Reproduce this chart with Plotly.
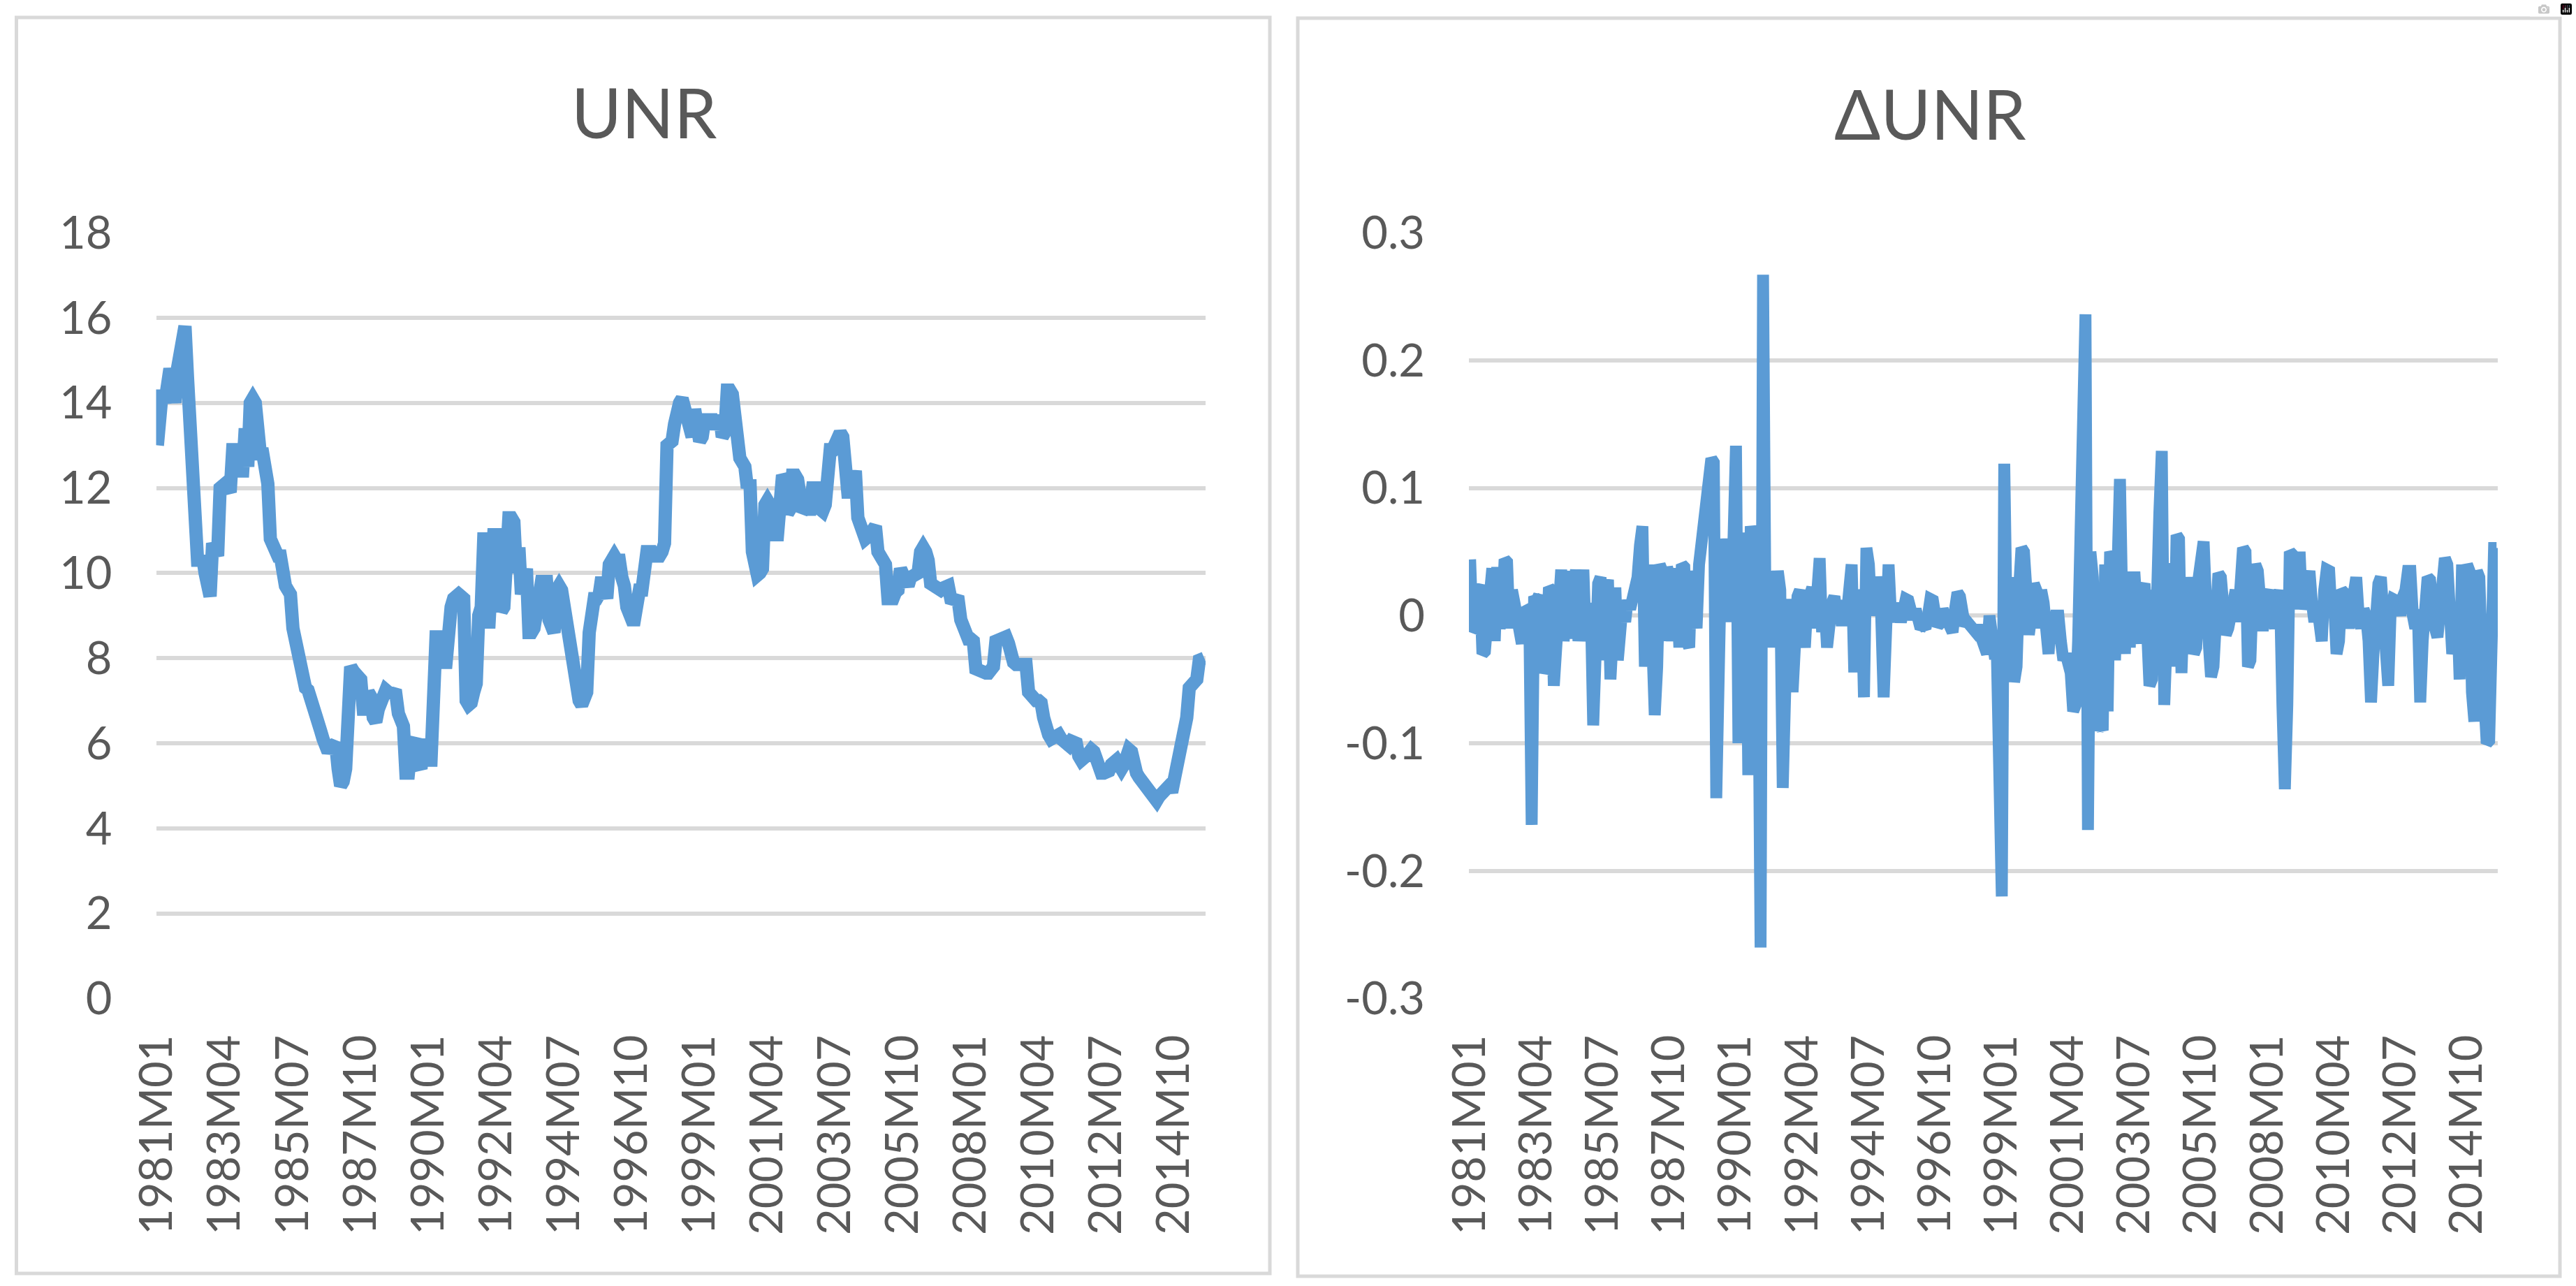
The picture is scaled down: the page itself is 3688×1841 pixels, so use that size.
import plotly.graph_objects as go

# ---------------- data ----------------
start_year, start_month, n_months = 1981, 1, 418
categories = []
for k in range(n_months):
    y = start_year + (start_month - 1 + k) // 12
    m = (start_month - 1 + k) % 12 + 1
    categories.append(f"{y}M{m:02d}")

unr = [
    13.0, 14.2, 14.3, 14.0, 14.6, 14.8, 14.5, 14.0, 14.8, 15.2,
    15.8, 15.8, 14.6, 13.6, 12.5, 10.5, 10.3, 10.3, 10.4, 10.0,
    9.6, 9.45, 10.7, 10.5, 10.4, 12.0, 12.1, 12.1, 12.0, 11.9,
    12.9, 12.9, 12.9, 12.4, 12.4, 13.4, 12.5, 14.0, 14.1, 14.0,
    12.9, 12.8, 12.8, 12.4, 12.1, 10.8, 10.6, 10.6, 10.4, 10.4,
    9.8, 9.7, 9.6, 9.5, 8.7, 8.4, 8.1, 7.8, 7.4, 7.3,
    7.25, 7.0, 6.8, 6.6, 6.5, 6.3, 6.1, 6.0, 5.8, 5.9,
    6.0, 6.0, 5.4, 5.0, 5.1, 5.4, 7.4, 7.8, 7.7, 7.6,
    7.6, 7.5, 6.8, 6.8, 7.2, 7.1, 6.6, 6.5, 6.8, 7.0,
    7.2, 7.25, 7.2, 7.2, 7.2, 7.15, 6.7, 6.6, 6.4, 5.3,
    5.3, 5.9, 6.0, 6.1, 5.5, 5.4, 6.1, 5.7, 5.6, 5.6,
    8.5, 8.5, 8.5, 8.1, 7.9, 7.9, 8.9, 9.2, 9.4, 9.5,
    9.5, 9.45, 9.4, 7.0, 6.9, 6.95, 7.2, 7.4, 9.0, 9.2,
    10.8, 10.8, 8.7, 10.9, 10.9, 10.9, 9.1, 9.1, 9.2, 11.1,
    11.3, 11.3, 11.2, 10.0, 10.6, 9.5, 10.1, 10.1, 8.6, 8.6,
    8.7, 9.2, 9.5, 9.8, 9.8, 9.8, 8.9, 8.7, 8.6, 9.6,
    9.7, 9.6, 9.2, 8.7, 8.1, 8.0, 7.8, 7.4, 7.0, 6.9,
    7.0, 7.2, 8.6, 9.4, 9.4, 9.4, 9.5, 9.9, 9.6, 9.4,
    10.2, 10.4, 10.4, 10.3, 10.3, 9.9, 9.7, 9.2, 9.0, 8.9,
    8.9, 9.6, 9.6, 9.6, 10.5, 10.5, 10.5, 10.5, 10.4, 10.35,
    10.4, 10.5, 10.7, 13.0, 13.1, 13.1, 13.5, 14.0, 14.0, 14.1,
    13.9, 13.5, 13.3, 13.2, 13.85, 13.5, 13.1, 13.2, 13.6, 13.6,
    13.6, 13.6, 13.4, 13.5, 13.7, 13.2, 13.3, 14.3, 14.3, 14.2,
    13.2, 13.2, 12.7, 12.6, 12.5, 12.0, 12.2, 10.5, 10.0, 9.95,
    10.0, 10.1, 11.6, 11.7, 11.6, 10.9, 10.9, 10.9, 12.1, 12.3,
    12.2, 11.4, 11.5, 12.3, 12.3, 12.2, 11.5, 11.45, 11.5, 11.45,
    11.5, 12.0, 12.0, 12.0, 11.5, 11.45, 11.6, 12.8, 12.9, 12.9,
    13.1, 13.25, 13.3, 13.2, 12.0, 11.9, 11.9, 12.4, 12.4, 11.3,
    11.0, 10.9, 10.8, 10.85, 11.0, 11.1, 11.1, 10.5, 10.4, 10.3,
    10.2, 9.4, 9.35, 9.4, 9.55, 9.6, 10.1, 10.0, 9.8, 9.7,
    9.9, 9.95, 9.95, 10.0, 10.5, 10.6, 10.5, 10.3, 9.75, 9.7,
    9.65, 9.65, 9.6, 9.65, 9.7, 9.7, 9.4, 9.4, 9.4, 9.35,
    8.9, 8.7, 8.5, 8.45, 8.45, 8.4, 7.75, 7.7, 7.65, 7.6,
    7.65, 7.65, 7.75, 7.8, 8.4, 8.45, 8.5, 8.55, 8.5, 8.35,
    7.95, 7.9, 7.85, 7.85, 7.9, 7.9, 7.85, 7.2, 7.1, 7.0,
    7.0, 7.0, 6.95, 6.6, 6.25, 6.2, 6.1, 6.15, 6.2, 6.2,
    6.1, 6.05, 6.0, 5.95, 6.05, 6.05, 6.0, 5.7, 5.6, 5.65,
    5.7, 5.8, 5.85, 5.8, 5.6, 5.55, 5.3, 5.3, 5.3, 5.35,
    5.5, 5.55, 5.6, 5.5, 5.4, 5.5, 5.8, 5.85, 5.8, 5.4,
    5.3, 5.2, 5.1, 5.1, 5.0, 4.85, 4.8, 4.7, 4.65, 4.75,
    4.85, 4.9, 5.0, 5.0, 4.85, 5.1, 5.6, 5.9, 6.1, 6.3,
    6.6, 7.3, 7.4, 7.5, 7.5, 7.95, 8.0, 8.0,
]

dunr = [
    0.044, -0.012, -0.01, 0.02, 0.024, -0.03, -0.028, -0.005, 0.03, 0.037,
    -0.02, 0.038, -0.01, 0.0, 0.044, 0.042, -0.01, 0.02, 0.01, -0.005,
    -0.02, -0.022, 0.003, 0.005, 0.005, -0.164, 0.015, 0.012, 0.016, -0.02,
    -0.045, -0.04, 0.022, 0.02, -0.055, -0.01, 0.0, 0.036, -0.02, 0.03,
    0.035, -0.018, 0.033, 0.036, -0.02, 0.03, 0.036, -0.02, 0.0, 0.01,
    -0.086, 0.0, 0.025, 0.03, -0.035, 0.02, 0.028, -0.05, 0.015, 0.022,
    -0.035, 0.005, 0.01, -0.005, 0.012, 0.005, 0.015, 0.015, 0.03, 0.055,
    0.07, -0.04, 0.03, 0.04, -0.02, -0.078, -0.04, 0.04, 0.035, -0.02,
    0.038, 0.03, -0.02, 0.037, 0.02, -0.025, 0.04, 0.038, -0.02, -0.025,
    0.035, 0.02, -0.01, 0.04, 0.055, 0.07, 0.085, 0.1, 0.123, 0.12,
    -0.143, 0.0, 0.05, 0.03, 0.06, 0.05, -0.005, 0.06, 0.133, -0.1,
    0.05, -0.005, 0.065, -0.125, 0.07, 0.06, -0.03, 0.0, -0.26, 0.267,
    0.0, 0.035, -0.025, 0.03, 0.0, 0.035, 0.02, -0.135, -0.06, 0.0,
    0.013, -0.06, 0.01, 0.015, 0.02, 0.0, -0.025, 0.01, 0.02, 0.022,
    -0.01, 0.02, 0.045, -0.013, 0.01, -0.025, 0.0, 0.01, 0.015, 0.0,
    0.01, -0.008, 0.012, 0.0, 0.02, 0.04, -0.04, -0.04, 0.01, 0.02,
    -0.064, 0.053, 0.04, 0.0, 0.01, 0.03, 0.02, 0.0, -0.064, 0.01,
    0.04, 0.0, 0.01, -0.005, 0.005, -0.005, 0.008, 0.013, 0.012, 0.0,
    -0.003, 0.005, -0.005, -0.01, -0.008, -0.01, 0.0, 0.013, 0.012, 0.0,
    -0.008, -0.006, 0.005, 0.0, -0.005, -0.012, -0.013, 0.005, 0.018, 0.015,
    0.0, -0.008, -0.005, -0.008, -0.01, -0.012, -0.008, -0.015, -0.02, -0.03,
    -0.03, 0.0, -0.03, -0.03, -0.03, -0.215, -0.22, 0.119, -0.01, 0.01,
    0.03, -0.052, -0.04, 0.02, 0.053, 0.05, 0.02, -0.015, 0.0, 0.025,
    0.02, -0.01, 0.02, 0.01, -0.01, -0.03, 0.0, -0.015, 0.0, 0.0,
    -0.02, -0.035, -0.03, -0.04, -0.045, -0.075, -0.07, -0.02, 0.08, 0.16,
    0.236, -0.168, 0.05, 0.03, -0.03, -0.09, -0.085, -0.09, 0.04, -0.075,
    0.05, 0.045, -0.035, 0.05, 0.107, 0.0, -0.03, 0.03, -0.025, 0.03,
    0.03, 0.0, -0.022, 0.02, 0.025, -0.01, -0.055, -0.05, 0.02, 0.01,
    0.08, 0.129, -0.07, 0.0, 0.035, 0.04, -0.04, 0.063, 0.06, -0.045,
    0.01, -0.012, 0.03, 0.01, -0.03, -0.025, 0.03, 0.055, 0.058, 0.01,
    -0.03, -0.048, -0.04, 0.02, 0.033, 0.03, 0.01, -0.015, -0.01, 0.005,
    0.01, 0.02, -0.005, 0.04, 0.053, 0.05, -0.04, -0.035, 0.02, 0.04,
    0.035, 0.0, -0.012, 0.01, 0.02, 0.02, 0.0, -0.01, 0.01, 0.02,
    -0.07, -0.136, -0.07, 0.05, 0.048, 0.005, 0.03, 0.05, 0.005, 0.02,
    0.035, 0.035, 0.01, -0.005, 0.01, -0.01, -0.02, 0.02, 0.036, 0.035,
    0.0, 0.01, -0.03, -0.02, 0.02, 0.018, 0.01, -0.01, 0.005, 0.03,
    0.03, 0.0, -0.01, 0.005, 0.0, -0.02, -0.068, -0.03, 0.02, 0.025,
    0.03, 0.0, -0.01, -0.055, 0.005, 0.013, 0.012, 0.01, 0.0, 0.015,
    0.02, 0.035, 0.035, 0.0, -0.01, 0.005, -0.068, -0.02, 0.01, 0.03,
    0.028, 0.0, -0.01, -0.017, 0.0, 0.03, 0.045, 0.04, 0.0, -0.03,
    -0.02, 0.01, -0.05, 0.04, -0.03, 0.04, 0.035, -0.06, -0.083, 0.035,
    0.03, -0.03, -0.08, -0.1, -0.098, 0.02, 0.053, 0.053,
]

tick_step = 27
x_tick_labels = categories[::tick_step]

left_title = "UNR"
right_title = "\u0394UNR"
left_yticks = [0, 2, 4, 6, 8, 10, 12, 14, 16, 18]
left_yticktext = [str(v) for v in left_yticks]
right_yticks = [-0.3, -0.2, -0.1, 0, 0.1, 0.2, 0.3]
right_yticktext = ["-0.3", "-0.2", "-0.1", "0", "0.1", "0.2", "0.3"]

# ---------------- styling ----------------
W, H = 3688, 1841
LINE = "#5B9BD5"
GRID = "#D9D9D9"
TXT = "#595959"
FONT = "Lato"
TICK_SIZE = 65
TITLE_SIZE = 98


def px_x(p):
    return p / W


def px_y(p):
    return 1 - p / H


fig = go.Figure()
fig.add_trace(go.Scatter(x=categories, y=unr, mode="lines",
                         line=dict(color=LINE, width=19),
                         xaxis="x", yaxis="y", showlegend=False,
                         hoverinfo="x+y"))
fig.add_trace(go.Scatter(x=categories, y=dunr, mode="lines",
                         line=dict(color=LINE, width=17),
                         xaxis="x2", yaxis="y2", showlegend=False,
                         hoverinfo="x+y"))

ydom = [px_y(1429.5), px_y(333)]

common_x = dict(type="category", range=[-0.5, n_months - 0.5],
                tickmode="array", tickvals=x_tick_labels, ticktext=x_tick_labels,
                tickangle=-90, showgrid=False, zeroline=False, showline=False,
                ticks="", ticklabelstandoff=38, automargin=False,
                tickfont=dict(family=FONT, size=TICK_SIZE, color=TXT),
                fixedrange=True)
common_y = dict(showgrid=True, gridcolor=GRID, gridwidth=6, zeroline=False,
                showline=False, ticks="", ticklabelstandoff=62, automargin=False,
                tickfont=dict(family=FONT, size=TICK_SIZE, color=TXT),
                fixedrange=True)

fig.update_layout(
    width=W, height=H,
    margin=dict(l=0, r=0, t=0, b=0, pad=0),
    paper_bgcolor="white", plot_bgcolor="white",
    template="none",
    showlegend=False,
    xaxis=dict(domain=[px_x(223.5), px_x(1726)], anchor="y", **common_x),
    yaxis=dict(domain=ydom, anchor="x", range=[0, 18], tickmode="array",
               tickvals=left_yticks, ticktext=left_yticktext, **common_y),
    xaxis2=dict(domain=[px_x(2103), px_x(3576)], anchor="y2", **common_x),
    yaxis2=dict(domain=ydom, anchor="x2", range=[-0.3, 0.3], tickmode="array",
                tickvals=right_yticks, ticktext=right_yticktext, **common_y),
    shapes=[
        dict(type="rect", xref="paper", yref="paper",
             x0=px_x(23.5), x1=px_x(1818), y0=px_y(1823), y1=px_y(25),
             line=dict(color=GRID, width=5), fillcolor="rgba(0,0,0,0)", layer="below"),
        dict(type="rect", xref="paper", yref="paper",
             x0=px_x(1858), x1=px_x(3665), y0=px_y(1827), y1=px_y(26),
             line=dict(color=GRID, width=5), fillcolor="rgba(0,0,0,0)", layer="below"),
    ],
    annotations=[
        dict(text=left_title, xref="paper", yref="paper", x=px_x(922), y=px_y(160),
             xanchor="center", yanchor="middle", showarrow=False,
             font=dict(family=FONT, size=TITLE_SIZE, color=TXT)),
        dict(text=right_title, xref="paper", yref="paper", x=px_x(2763), y=px_y(162),
             xanchor="center", yanchor="middle", showarrow=False,
             font=dict(family=FONT, size=TITLE_SIZE, color=TXT)),
    ],
)

fig.write_html("out.html",
               post_script="document.body.style.margin='0';document.body.style.overflow='hidden';")
